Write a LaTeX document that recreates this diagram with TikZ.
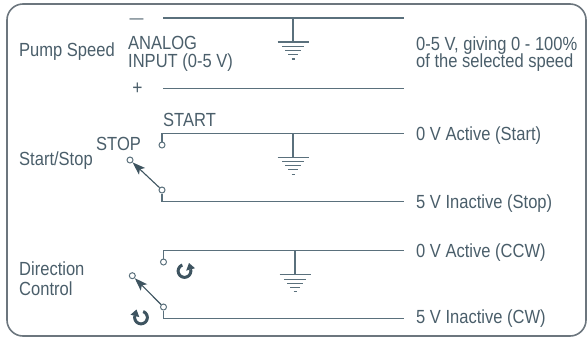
\documentclass[tikz,border=0pt]{standalone}
\usepackage{fontspec}
\setmainfont{Liberation Sans}[FakeStretch=0.87]
\usetikzlibrary{arrows.meta}
\definecolor{txtc}{RGB}{74,94,106}
\definecolor{wirec}{RGB}{90,112,124}
\definecolor{framec}{RGB}{108,118,126}
\definecolor{iconc}{RGB}{62,84,96}
\tikzset{
  lbl/.style={anchor=base west, inner sep=0pt, text=txtc, font=\fontsize{19}{19}\selectfont},
  wire/.style={draw=wirec, line width=1.3pt},
  contact/.style={circle, draw=wirec, line width=1pt, fill=white, minimum size=6pt, inner sep=0pt},
  swarrow/.style={draw=iconc, line width=1.1pt, -{Stealth[length=13pt,width=9pt,inset=3pt]}},
  rotarc/.style={draw=iconc, line width=3pt, line cap=butt},
  rothead/.style={fill=iconc},
  gnd/.pic={
    \draw[wire] (0,0) -- (0,24);
    \draw[wire] (-15.5,24) -- (15.5,24);
    \draw[wire] (-11,28.5) -- (11,28.5);
    \draw[wire] (-8,32.5) -- (8,32.5);
    \draw[wire] (-5,36.5) -- (5,36.5);
    \draw[wire] (-1.5,41) -- (1.5,41);
  }
}
\begin{document}
\begin{tikzpicture}[x=1pt,y=-1pt]
\useasboundingbox (0,0) rectangle (588,338);
\draw[framec, line width=1.6pt, rounded corners=16pt] (7,4) rectangle (586,336);

% ---- Pump speed
\node[lbl] (pump) at (19,56) {Pump Speed};
\node[lbl] (analog) at (128,49.5) {ANALOG};
\node[lbl] (input) at (128,67.5) {INPUT (0-5 V)};
\node[lbl, font=\fontsize{16}{16}\selectfont] (minus) at (129.5,23.5) {—};
\node[inner sep=0pt, text=txtc, font=\fontsize{20}{20}\selectfont] (plus) at (137.5,89) {+};
\node[lbl] (rng1) at (416,50) {0-5 V, giving 0 - 100\%};
\node[lbl] (rng2) at (416,67.5) {of the selected speed};
\coordinate (a1l) at (163,18);
\coordinate (a1r) at (404,18);
\coordinate (a2l) at (163,88.3);
\coordinate (a2r) at (404,88.3);
\draw[wire] (a1l) -- (a1r);
\draw[wire] (a2l) -- (a2r);
\pic at (293,18) {gnd};

% ---- Start / Stop
\node[lbl] (start) at (163,126) {START};
\node[lbl] (stop) at (96,150.5) {STOP};
\node[lbl] (ss) at (19,165) {Start/Stop};
\node[lbl] (act1) at (416,140.5) {0 V Active (Start)};
\node[lbl] (inact1) at (416,208.5) {5 V Inactive (Stop)};
\coordinate (w2t) at (404,133.3);
\coordinate (w2b) at (404,201.7);
\node[contact] (s1top) at (162,145) {};
\node[contact] (s1stop) at (130,160) {};
\node[contact] (s1com) at (162,190) {};
\draw[wire] (s1top) |- (w2t);
\draw[wire] (s1com) |- (w2b);
\draw[swarrow] (s1com) -- (s1stop);
\pic at (293,133.3) {gnd};

% ---- Direction control
\node[lbl] (dir) at (19,275.5) {Direction};
\node[lbl] (ctl) at (19,295.5) {Control};
\node[lbl] (act2) at (416,257.5) {0 V Active (CCW)};
\node[lbl] (inact2) at (416,323) {5 V Inactive (CW)};
\coordinate (w3t) at (404,250.7);
\coordinate (w3b) at (404,318.5);
\node[contact] (d1top) at (163.5,262) {};
\node[contact] (d1left) at (132.3,275.7) {};
\node[contact] (d1com) at (163.5,307) {};
\draw[wire] (d1top) |- (w3t);
\draw[wire] (d1com) |- (w3b);
\draw[swarrow] (d1com) -- (d1left);
\pic at (295,250.7) {gnd};
% rotation icons (screen angles, y pointing down)
\draw[rotarc] plot[domain=110:375, samples=60] ({184.5+6.3*cos(\x)},{271-6.3*sin(\x)});
\fill[rothead] (195.0,268.2) -- (189.0,263.0) -- (186.2,270.6) -- cycle;
\draw[rotarc] plot[domain=70:-195, samples=60] ({141+6.3*cos(\x)},{317.5-6.3*sin(\x)});
\fill[rothead] (139.3,317.1) -- (136.5,309.5) -- (130.5,314.7) -- cycle;
\end{tikzpicture}
\end{document}
